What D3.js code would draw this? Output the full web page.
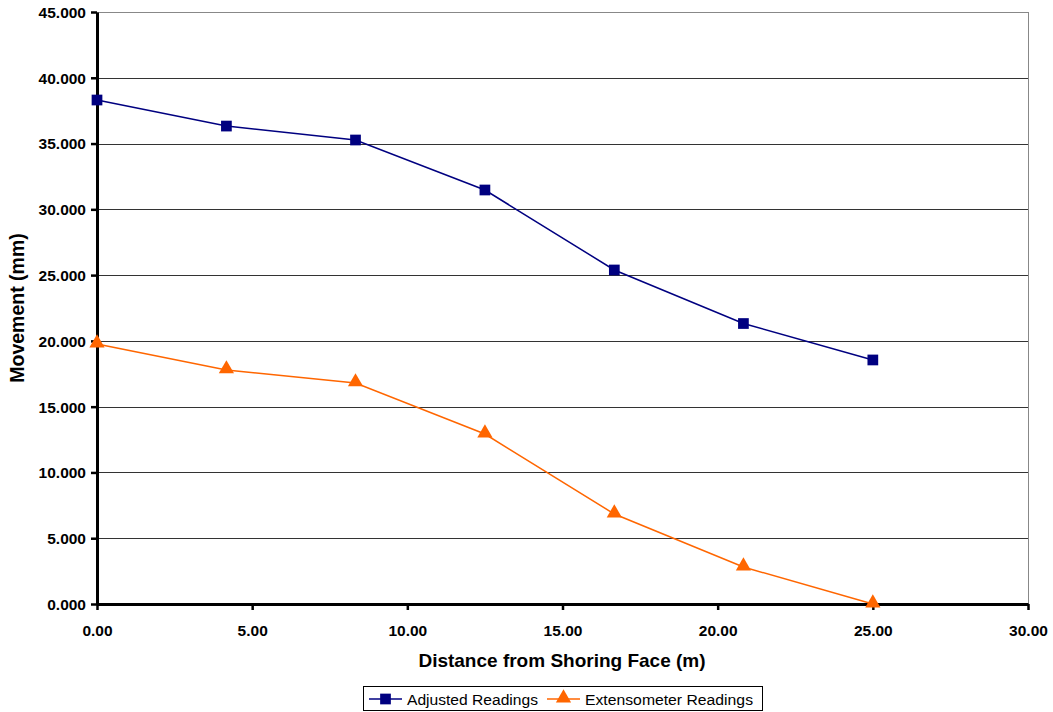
<!DOCTYPE html>
<html>
<head>
<meta charset="utf-8">
<script src="https://cdn.jsdelivr.net/npm/d3@7"></script>
<style>
  html, body { margin: 0; padding: 0; background: #fff; }
  svg { display: block; font-family: "Liberation Sans", Arial, sans-serif; }
</style>
</head>
<body>
<svg id="chart" width="1053" height="712"></svg>
<script>
// Distance from shoring face (m)
const distances = [0, 4.17, 8.33, 12.5, 16.67, 20.83, 25];
// Movement (mm)
const adjustedReadings = [38.31, 36.33, 35.27, 31.47, 25.39, 21.32, 18.55];
const extensometerReadings = [19.76, 17.79, 16.80, 12.92, 6.84, 2.81, 0];
const xTicks = [0, 5, 10, 15, 20, 25, 30];
const yTicks = [0, 5, 10, 15, 20, 25, 30, 35, 40, 45];
const seriesNames = ["Adjusted Readings", "Extensometer Readings"];
const seriesColors = ["#000080", "#FF6600"];

const svg = d3.select("#chart");
const m = { left: 97, right: 1028, top: 12, bottom: 604 };

const x = d3.scaleLinear().domain([0, 30]).range([m.left, m.right]);
const y = d3.scaleLinear().domain([0, 45]).range([m.bottom, m.top]);

// Horizontal gridlines
svg.append("g").selectAll("line")
  .data(yTicks.filter(d => d > 0))
  .join("line")
  .attr("x1", m.left).attr("x2", m.right)
  .attr("y1", d => Math.round(y(d)) + 0.5).attr("y2", d => Math.round(y(d)) + 0.5)
  .attr("stroke", d => d === 45 ? "#888" : "#333")
  .attr("stroke-width", 1);

// Right border
svg.append("line")
  .attr("x1", m.right + 0.5).attr("x2", m.right + 0.5)
  .attr("y1", m.top).attr("y2", m.bottom)
  .attr("stroke", "#888").attr("stroke-width", 1);

// Y axis
const yAxis = svg.append("g")
  .attr("transform", `translate(${m.left},0)`)
  .call(d3.axisLeft(y).tickValues(yTicks).tickFormat(d3.format(".3f")).tickSize(6).tickSizeOuter(0));
yAxis.select(".domain").attr("stroke", "#000").attr("stroke-width", 3);
yAxis.selectAll(".tick line").attr("stroke", "#000").attr("stroke-width", 2.5);
yAxis.selectAll(".tick text")
  .attr("x", -11).attr("dy", "0.35em")
  .attr("font-size", 15.5).attr("font-weight", "bold").attr("fill", "#000")
  .attr("font-family", "Liberation Sans, Arial, sans-serif");

// X axis
const xAxis = svg.append("g")
  .attr("transform", `translate(0,${m.bottom})`)
  .call(d3.axisBottom(x).tickValues(xTicks).tickFormat(d3.format(".2f")).tickSize(6).tickSizeOuter(0));
xAxis.select(".domain").attr("stroke", "#000").attr("stroke-width", 3);
xAxis.selectAll(".tick line").attr("stroke", "#000").attr("stroke-width", 2.5);
xAxis.selectAll(".tick text")
  .attr("y", 27).attr("dy", "0.35em")
  .attr("font-size", 15.5).attr("font-weight", "bold").attr("fill", "#000")
  .attr("font-family", "Liberation Sans, Arial, sans-serif");

// Axis titles
svg.append("text")
  .attr("x", 562).attr("y", 667)
  .attr("text-anchor", "middle")
  .attr("font-size", 19).attr("font-weight", "bold")
  .text("Distance from Shoring Face (m)");

svg.append("text")
  .attr("transform", `translate(24,${(m.top + m.bottom) / 2}) rotate(-90)`)
  .attr("text-anchor", "middle")
  .attr("font-size", 19.5).attr("font-weight", "bold")
  .text("Movement (mm)");

// Series
const line = d3.line().x(d => x(d[0])).y(d => y(d[1]));
const series = [adjustedReadings, extensometerReadings].map(vals => distances.map((d, i) => [d, vals[i]]));

const squareSym = d3.symbol().type(d3.symbolSquare).size(115);
const triSym = d3.symbol().type(d3.symbolTriangle).size(100);

series.forEach((pts, si) => {
  svg.append("path")
    .datum(pts)
    .attr("d", line)
    .attr("fill", "none")
    .attr("stroke", seriesColors[si])
    .attr("stroke-width", 1.5);
  svg.append("g").selectAll("path")
    .data(pts)
    .join("path")
    .attr("d", si === 0 ? squareSym : triSym)
    .attr("transform", d => `translate(${x(d[0])},${y(d[1]) - (si === 1 ? 1 : 0)})`)
    .attr("fill", seriesColors[si]);
});

// Legend
const legend = svg.append("g");
legend.append("rect")
  .attr("x", 363.5).attr("y", 686.5).attr("width", 399).attr("height", 24)
  .attr("fill", "#fff").attr("stroke", "#000").attr("stroke-width", 1);

const legendItems = [
  { x0: 369, name: seriesNames[0], color: seriesColors[0], sym: squareSym },
  { x0: 547, name: seriesNames[1], color: seriesColors[1], sym: triSym }
];
legendItems.forEach(it => {
  legend.append("line")
    .attr("x1", it.x0).attr("x2", it.x0 + 33)
    .attr("y1", 699).attr("y2", 699)
    .attr("stroke", it.color).attr("stroke-width", 1.5);
  legend.append("path")
    .attr("d", it.sym)
    .attr("transform", `translate(${it.x0 + 16.5},${it.sym === triSym ? 698 : 699})`)
    .attr("fill", it.color);
  legend.append("text")
    .attr("x", it.x0 + 38).attr("y", 700).attr("dy", "0.35em")
    .attr("font-size", 15.5)
    .attr("textLength", it.sym === triSym ? 168 : 131)
    .attr("lengthAdjust", "spacingAndGlyphs")
    .text(it.name);
});
</script>
</body>
</html>
